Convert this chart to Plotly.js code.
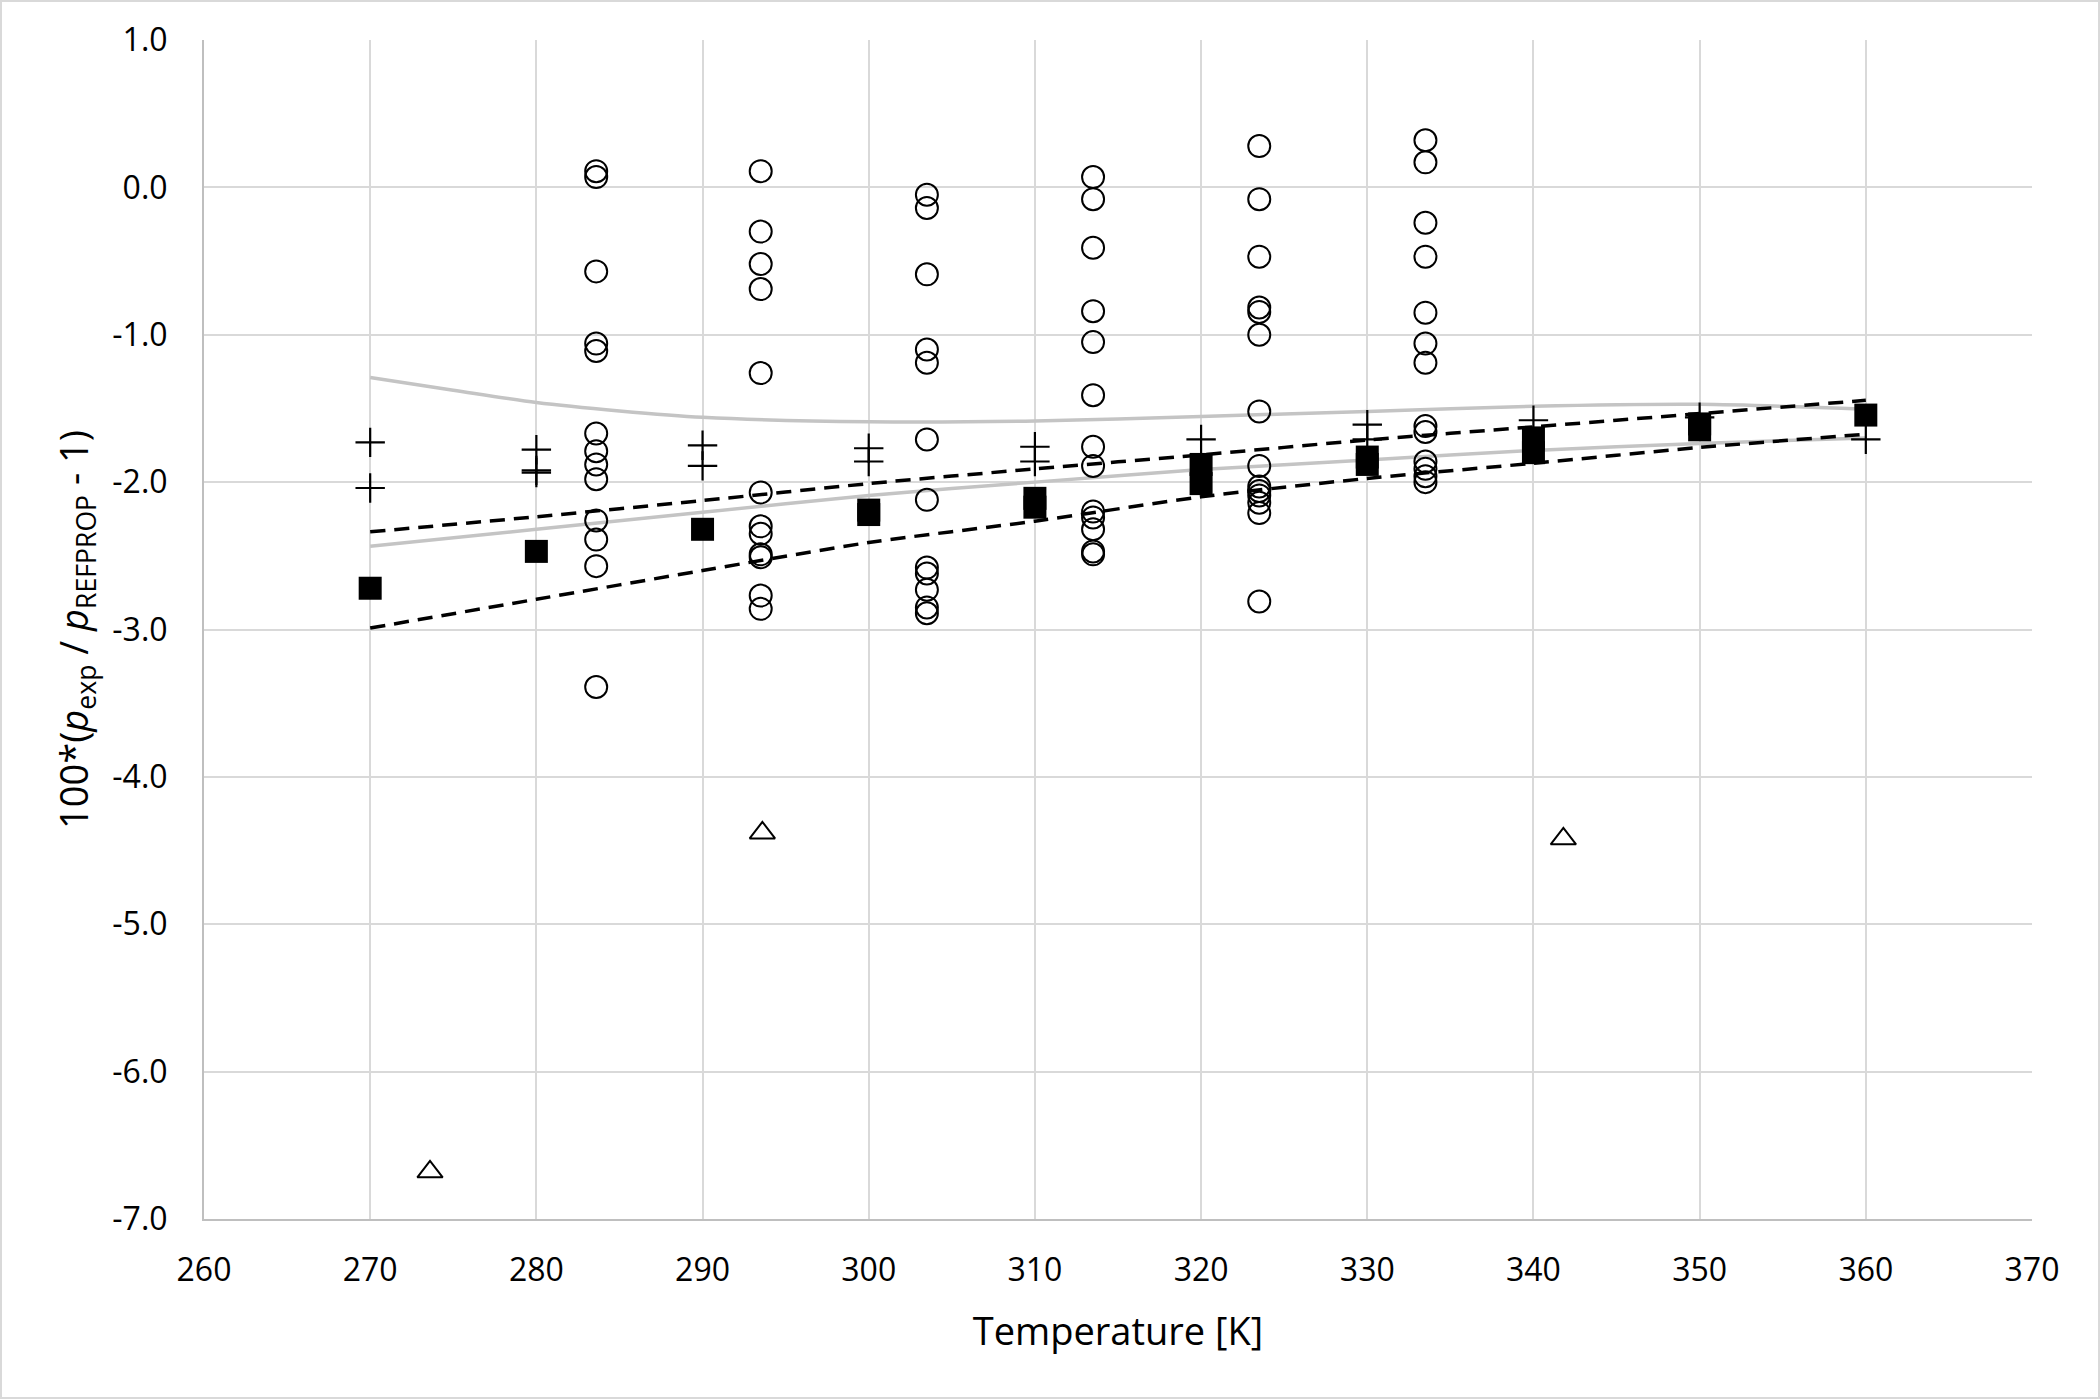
<!DOCTYPE html>
<html>
<head>
<meta charset="utf-8">
<script src="https://cdn.plot.ly/plotly-3.0.1.min.js"></script>
<style>
  html, body { margin: 0; padding: 0; background: #fff; }
  #wrap { position: relative; width: 2100px; height: 1399px; }
  #chart { width: 2100px; height: 1399px; }
  #frame { position: absolute; left: 0; top: 0; width: 2100px; height: 1399px; box-sizing: border-box; border: 2px solid #d9d9d9; pointer-events: none; }
</style>
</head>
<body>
<div id="wrap"><div id="chart"></div><div id="frame"></div></div>
<script>
// ---- Data ----
// Open circles: several points per temperature column
const circleTemps = [283.6, 293.5, 303.5, 313.5, 323.5, 333.5];
const circleDev283 = [0.11, 0.07, -0.57, -1.06, -1.11, -1.67, -1.79, -1.88, -1.98, -2.26, -2.39, -2.57, -3.39];
const circleDev293 = [0.11, -0.30, -0.52, -0.69, -1.26, -2.07, -2.30, -2.35, -2.49, -2.51, -2.77, -2.86];
const circleDev303 = [-0.05, -0.14, -0.59, -1.10, -1.19, -1.71, -2.12, -2.58, -2.62, -2.73, -2.85, -2.89];
const circleDev313 = [0.07, -0.08, -0.41, -0.84, -1.05, -1.41, -1.76, -1.89, -2.20, -2.24, -2.32, -2.47, -2.49];
const circleDev323 = [0.28, -0.08, -0.47, -0.815, -0.845, -1.00, -1.52, -1.89, -2.03, -2.06, -2.09, -2.14, -2.21, -2.81];
const circleDev333 = [0.32, 0.17, -0.24, -0.47, -0.85, -1.06, -1.19, -1.62, -1.66, -1.86, -1.91, -1.96, -2.00];

// Open triangles
const triT = [273.6, 293.6, 341.8];
const triDev = [-6.68, -4.38, -4.42];

// Filled squares
const squareT = [270, 280, 290, 300, 300, 310, 310, 320, 320, 330, 330, 340, 340, 350, 350, 360];
const squareDev = [-2.72, -2.47, -2.32, -2.19, -2.22, -2.11, -2.17, -1.88, -2.01, -1.83, -1.88, -1.70, -1.80, -1.605, -1.645, -1.545];

// Plus markers
const plusT = [270, 270, 280, 280, 280, 290, 290, 300, 300, 310, 310, 320, 330, 330, 340, 350, 360];
const plusDev = [-1.73, -2.04, -1.78, -1.92, -1.935, -1.75, -1.89, -1.77, -1.86, -1.76, -1.86, -1.71, -1.61, -1.71, -1.58, -1.56, -1.71];

// Curves
const grayUpperT = [270, 275, 280, 285, 290, 300, 310, 320, 330, 340, 350, 360];
const grayUpperDev = [-1.29, -1.376, -1.46, -1.517, -1.56, -1.59, -1.585, -1.555, -1.52, -1.485, -1.472, -1.505];
const curveT = [270, 280, 290, 300, 310, 320, 330, 340, 350, 360];
const grayLowerDev = [-2.435, -2.32, -2.205, -2.09, -2.0, -1.915, -1.85, -1.785, -1.738, -1.70];
const dashUpperDev = [-2.337, -2.235, -2.125, -2.01, -1.91, -1.815, -1.714, -1.625, -1.535, -1.445];
const dashLowerDev = [-2.99, -2.795, -2.60, -2.41, -2.265, -2.10, -1.975, -1.872, -1.765, -1.675];

// Tick labels
const xTicks = [260, 270, 280, 290, 300, 310, 320, 330, 340, 350, 360, 370];
const yTicks = [1, 0, -1, -2, -3, -4, -5, -6, -7];
const xTickText = xTicks.map(v => String(v));
const yTickText = yTicks.map(v => v.toFixed(1));

// ---- Build traces ----
const circleCols = [circleDev283, circleDev293, circleDev303, circleDev313, circleDev323, circleDev333];
const circleX = [], circleY = [];
circleCols.forEach((col, i) => col.forEach(v => { circleX.push(circleTemps[i]); circleY.push(v); }));

const FONT = 'Open Sans, Lato, sans-serif';

const traces = [
  { x: grayUpperT, y: grayUpperDev, mode: 'lines', line: { color: '#c4c4c4', width: 3.5, shape: 'spline', smoothing: 0.8 }, hoverinfo: 'skip' },
  { x: curveT, y: grayLowerDev, mode: 'lines', line: { color: '#c4c4c4', width: 3.5, shape: 'spline', smoothing: 0.8 }, hoverinfo: 'skip' },
  { x: curveT, y: dashUpperDev, mode: 'lines', line: { color: '#000', width: 3.5, dash: '15px,9px', shape: 'spline', smoothing: 0.8 }, hoverinfo: 'skip' },
  { x: curveT, y: dashLowerDev, mode: 'lines', line: { color: '#000', width: 3.5, dash: '15px,9px', shape: 'spline', smoothing: 0.8 }, hoverinfo: 'skip' },
  { x: circleX, y: circleY, mode: 'markers', marker: { symbol: 'circle-open', size: 22, color: '#000', line: { width: 2, color: '#000' } } },
  { x: triT, y: triDev, mode: 'markers', marker: { symbol: 'triangle-up-open', size: 22, color: '#000', line: { width: 2, color: '#000' } } },
  { x: plusT, y: plusDev, mode: 'markers', marker: { symbol: 'cross-thin', size: 21, color: '#000', line: { width: 2.2, color: '#000' } } },
  { x: squareT, y: squareDev, mode: 'markers', marker: { symbol: 'square', size: 23, color: '#000', line: { width: 0 } } }
];

const layout = {
  width: 2100, height: 1399,
  paper_bgcolor: '#fff', plot_bgcolor: '#fff',
  showlegend: false,
  margin: { l: 204, r: 68, t: 40, b: 180 },
  font: { family: FONT, color: '#000' },
  xaxis: {
    range: [260, 370], tickvals: xTicks, ticktext: xTickText,
    showgrid: true, gridcolor: '#d9d9d9', gridwidth: 2,
    zeroline: false, showline: true, linecolor: '#bfbfbf', linewidth: 2,
    ticks: '', ticklabelstandoff: 22,
    tickfont: { family: FONT, size: 32, color: '#000' },
    title: { text: 'Temperature [K]', font: { family: FONT, size: 38, color: '#000' }, standoff: 29 },
    automargin: false
  },
  yaxis: {
    range: [-7, 1], tickvals: yTicks, ticktext: yTickText,
    showgrid: true, gridcolor: '#d9d9d9', gridwidth: 2,
    zeroline: false, showline: true, linecolor: '#bfbfbf', linewidth: 2,
    ticks: '', ticklabelstandoff: 28,
    tickfont: { family: FONT, size: 32, color: '#000' },
    title: { text: '100*(<i>p</i><sub>exp</sub> / <i>p</i><sub>REFPROP</sub> - 1)', font: { family: FONT, size: 38, color: '#000' }, standoff: 12 },
    automargin: false
  }
};

Plotly.newPlot('chart', traces, layout, { staticPlot: true, displayModeBar: false });
</script>
</body>
</html>
